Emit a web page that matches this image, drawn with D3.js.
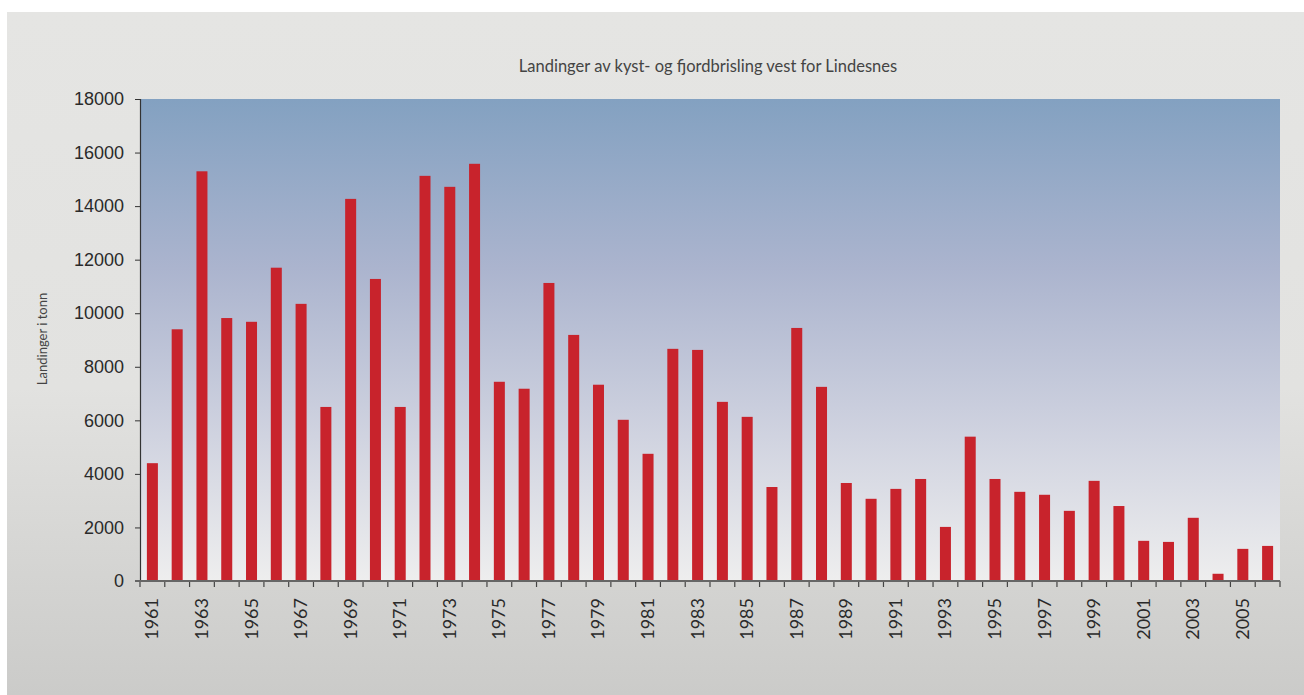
<!DOCTYPE html>
<html>
<head>
<meta charset="utf-8">
<script src="https://cdn.jsdelivr.net/npm/d3@7"></script>
<style>
  body { margin: 0; background: #fff; }
  svg { display: block; font-family: Lato, "Open Sans", sans-serif; }
</style>
</head>
<body>
<div id="viz"></div>
<script>
const years = d3.range(1961, 2007);
const landings = [
  4400, 9400, 15300, 9820, 9680, 11700, 10350, 6500, 14270, 11280,
  6500, 15130, 14720, 15580, 7440, 7180, 11130, 9190, 7330, 6020,
  4750, 8670, 8630, 6690, 6130, 3510, 9450, 7250, 3660, 3070,
  3440, 3810, 2020, 5390, 3810, 3330, 3220, 2620, 3740, 2800,
  1500, 1460, 2360, 270, 1200, 1310
];
const yTicks = [0, 2000, 4000, 6000, 8000, 10000, 12000, 14000, 16000, 18000];
const title = "Landinger av kyst- og fjordbrisling vest for Lindesnes";
const yTitle = "Landinger i tonn";

const data = years.map((y, i) => ({ year: y, value: landings[i] }));

const W = 1304, H = 695;
const plot = { left: 140, right: 1280, top: 99, bottom: 581 };

const svg = d3.select("#viz").append("svg")
  .attr("width", W)
  .attr("height", H);

const defs = svg.append("defs");
const bgGrad = defs.append("linearGradient")
  .attr("id", "bgGrad").attr("x1", 0).attr("y1", 0).attr("x2", 0).attr("y2", 1);
bgGrad.append("stop").attr("offset", "0%").attr("stop-color", "#e5e5e3");
bgGrad.append("stop").attr("offset", "55%").attr("stop-color", "#e2e2e0");
bgGrad.append("stop").attr("offset", "100%").attr("stop-color", "#cbcbc9");

const plotGrad = defs.append("linearGradient")
  .attr("id", "plotGrad").attr("x1", 0).attr("y1", 0).attr("x2", 0).attr("y2", 1);
plotGrad.append("stop").attr("offset", "0%").attr("stop-color", "#83a1c1");
plotGrad.append("stop").attr("offset", "35%").attr("stop-color", "#abb4ce");
plotGrad.append("stop").attr("offset", "70%").attr("stop-color", "#d0d3e0");
plotGrad.append("stop").attr("offset", "100%").attr("stop-color", "#eeeeee");

svg.append("rect")
  .attr("x", 7).attr("y", 12)
  .attr("width", W - 7).attr("height", H - 12)
  .attr("fill", "url(#bgGrad)");

svg.append("rect")
  .attr("x", plot.left).attr("y", plot.top)
  .attr("width", plot.right - plot.left)
  .attr("height", plot.bottom - plot.top)
  .attr("fill", "url(#plotGrad)");

const x = d3.scaleBand()
  .domain(years)
  .range([plot.left, plot.right])
  .paddingInner(0.556)
  .paddingOuter(0.278);

const y = d3.scaleLinear()
  .domain([0, 18000])
  .range([plot.bottom, plot.top]);

// bars
svg.append("g")
  .selectAll("rect")
  .data(data)
  .enter().append("rect")
  .attr("x", d => x(d.year))
  .attr("y", d => y(d.value))
  .attr("width", x.bandwidth())
  .attr("height", d => y(0) - y(d.value))
  .attr("fill", "#c8232c");

// y axis
const yAxis = svg.append("g")
  .attr("transform", `translate(${plot.left},0)`)
  .call(d3.axisLeft(y).tickValues(yTicks).tickSize(5).tickPadding(11).tickFormat(d3.format("d")));
yAxis.select(".domain").attr("stroke", "#333").attr("stroke-width", 1.2);
yAxis.selectAll(".tick line").attr("stroke", "#333");
yAxis.selectAll(".tick text")
  .attr("fill", "#2a2a2a")
  .style("font-size", "18px");

// x axis ticks at band boundaries
const step = x.step();
const boundaries = years.map(yr => x(yr) - (step - x.bandwidth()) / 2).concat([plot.right]);
svg.append("g")
  .selectAll("line")
  .data(boundaries)
  .enter().append("line")
  .attr("x1", d => d).attr("x2", d => d)
  .attr("y1", plot.bottom).attr("y2", plot.bottom + 6)
  .attr("stroke", "#444")
  .attr("stroke-width", 1.2);

svg.append("line")
  .attr("x1", plot.left - 5).attr("x2", plot.right)
  .attr("y1", plot.bottom).attr("y2", plot.bottom)
  .attr("stroke", "#666")
  .attr("stroke-width", 2);

// x labels, odd years
svg.append("g")
  .selectAll("text")
  .data(years.filter(yr => yr % 2 === 1))
  .enter().append("text")
  .attr("transform", yr => `translate(${x(yr) + x.bandwidth() / 2 + 6},598) rotate(-90)`)
  .attr("text-anchor", "end")
  .attr("fill", "#2a2a2a")
  .style("font-size", "18px")
  .text(yr => yr);

// title
svg.append("text")
  .attr("x", 708).attr("y", 72)
  .attr("text-anchor", "middle")
  .attr("fill", "#444")
  .style("font-size", "16.5px")
  .text(title);

// y title
svg.append("text")
  .attr("transform", "translate(47,339) rotate(-90)")
  .attr("text-anchor", "middle")
  .attr("fill", "#444")
  .style("font-size", "13px")
  .text(yTitle);
</script>
</body>
</html>
